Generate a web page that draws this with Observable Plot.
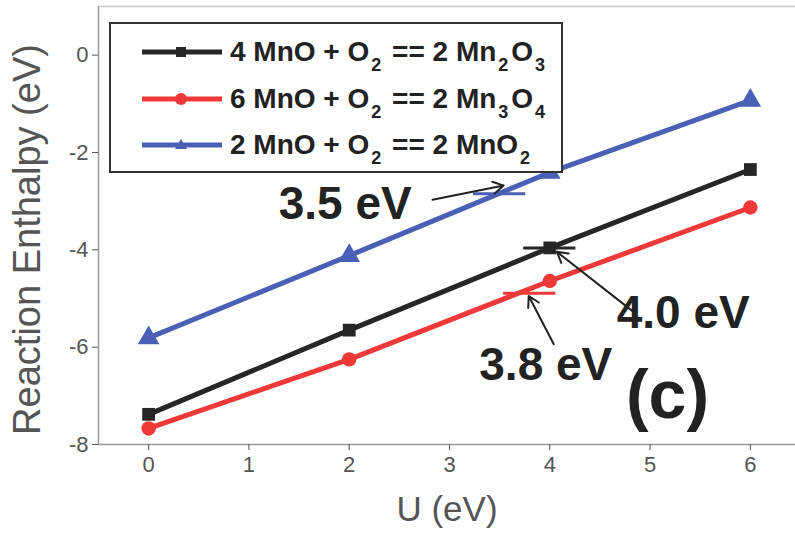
<!DOCTYPE html>
<html>
<head>
<meta charset="utf-8">
<script src="https://cdn.jsdelivr.net/npm/d3@7"></script>
<script src="https://cdn.jsdelivr.net/npm/@observablehq/plot@0.6"></script>
<style>
  html, body { margin: 0; padding: 0; background: #fff; }
  #wrap { position: relative; width: 795px; height: 543px; overflow: hidden; font-family: "Liberation Sans", Arial, sans-serif; }
  #legend { position: absolute; left: 109px; top: 22px; width: 450px; height: 147px; border: 2px solid #333; background: #fff; box-sizing: content-box; }
  .entry { position: absolute; left: 29px; height: 40px; display: flex; align-items: center; }
  .entry svg { width: 84px; height: 20px; }
  .entry span { font-size: 28px; font-weight: bold; color: #222; margin-left: 6px; white-space: nowrap; letter-spacing: 0px; }
  .entry sub { font-size: 18px; vertical-align: -10px; line-height: 0; margin: 0 3px 0 2px; }
</style>
</head>
<body>
<div id="wrap"></div>
<script>
// ---- data ----
const U = [0, 2, 4, 6];
const mn2o3 = [-7.38, -5.65, -3.96, -2.35];
const mn3o4 = [-7.67, -6.25, -4.64, -3.13];
const mno2  = [-5.81, -4.12, -2.41, -0.93];
const seriesNames = ["Mn2O3", "Mn3O4", "MnO2"];
const seriesLabels = [
  "4 MnO + O<sub>2</sub> == 2 Mn<sub>2</sub>O<sub>3</sub>",
  "6 MnO + O<sub>2</sub> == 2 Mn<sub>3</sub>O<sub>4</sub>",
  "2 MnO + O<sub>2</sub> == 2 MnO<sub>2</sub>"
];
const xTicks = [0, 1, 2, 3, 4, 5, 6];
const yTicks = [-8, -6, -4, -2, 0];
// annotations (data units): crossing U, value at crossing, label, label centre, arrow start/end
const annLabels = ["3.5 eV", "4.0 eV", "3.8 eV"];
const annU = [3.5, 4.0, 3.8];
const annV = [-2.85, -3.96, -4.89];
const annTextX = [1.96, 5.33, 3.96];
const annTextY = [-3.07, -5.30, -6.37];
const annFrom = [[2.83, -2.97], [4.85, -5.30], [4.04, -5.94]];
const annTo = [[3.54, -2.68], [4.07, -4.04], [3.79, -4.95]];
const panelLabel = "(c)";
const xLabel = "U (eV)";
const yLabel = "Reaction Enthalpy (eV)";

// ---- styles ----
const colors = ["#262626", "#ef3838", "#4a60b6"];
const symbols = ["square", "circle", "triangle"];
const radii = [7.2, 7.2, 8];
const font = "Liberation Sans, Arial, sans-serif";

const allSeries = [mn2o3, mn3o4, mno2];
const rows = [];
allSeries.forEach((s, k) => U.forEach((u, i) => rows.push({u, v: s[i], name: seriesNames[k]})));
const ann = annLabels.map((l, i) => ({
  label: l, u: annU[i], v: annV[i], tx: annTextX[i], ty: annTextY[i],
  x1: annFrom[i][0], y1: annFrom[i][1], x2: annTo[i][0], y2: annTo[i][1], c: colors[[2, 0, 1][i]]
}));

const xDomain = [-0.5, 6.45];
const yDomain = [-8, 1.0];

const marks = [
  Plot.ruleY([yDomain[1]], {stroke: "#c8c8c8", strokeWidth: 1.5}),
  Plot.ruleX([xDomain[0]], {stroke: "#999", strokeWidth: 1.5}),
  Plot.ruleY([yDomain[0]], {stroke: "#999", strokeWidth: 1.5}),
];
seriesNames.forEach((n, k) => {
  const d = rows.filter(r => r.name === n);
  marks.push(Plot.line(d, {x: "u", y: "v", stroke: colors[k], strokeWidth: 5}));
  marks.push(Plot.dot(d, {x: "u", y: "v", fill: colors[k], stroke: "none", symbol: symbols[k], r: radii[k]}));
});
marks.push(
  Plot.ruleY(ann, {y: "v", x1: d => d.u - 0.26, x2: d => d.u + 0.26, stroke: "c", strokeWidth: 3}),
  Plot.arrow(ann, {x1: "x1", y1: "y1", x2: "x2", y2: "y2", stroke: "#222", strokeWidth: 2, headLength: 9}),
  Plot.text(ann, {x: "tx", y: "ty", text: "label", fontSize: 46, fontWeight: "bold", fill: "#222", fontFamily: font}),
  Plot.text([panelLabel], {frameAnchor: "bottom-right", dx: -128, dy: -48, fontSize: 68, fontWeight: "bold", fill: "#222", fontFamily: font, lineAnchor: "middle", textAnchor: "middle"}),
  Plot.text([yLabel], {frameAnchor: "left", dx: -71, dy: 14, rotate: -90, textAnchor: "middle", fontSize: 38, fill: "#555", fontFamily: font}),
  Plot.text([xLabel], {frameAnchor: "bottom", dy: 76, textAnchor: "middle", fontSize: 35, fill: "#555", fontFamily: font}),
  Plot.axisX({ticks: xTicks, tickSize: 6, tickPadding: 6, fontSize: 22, color: "#555", label: null, tickFormat: d3.format("d")}),
  Plot.axisY({ticks: yTicks, tickSize: 6, tickPadding: 4, fontSize: 22, color: "#555", label: null, tickFormat: d => (d < 0 ? "-" : "") + Math.abs(d)})
);

const chart = Plot.plot({
  width: 795, height: 543,
  marginLeft: 98, marginRight: 0, marginTop: 6, marginBottom: 99,
  x: {domain: xDomain},
  y: {domain: yDomain},
  style: {fontFamily: font, background: "#fff", overflow: "visible"},
  marks
});
const wrap = document.getElementById("wrap");
wrap.appendChild(chart);

// legend overlay
const legend = document.createElement("div");
legend.id = "legend";
seriesLabels.forEach((lab, k) => {
  const e = document.createElement("div");
  e.className = "entry";
  e.style.top = (8 + k * 46.5) + "px";
  const sym = symbols[k] === "square" ? `<rect x="36" y="5" width="10" height="10" fill="${colors[k]}"/>`
    : symbols[k] === "circle" ? `<circle cx="41" cy="10" r="6" fill="${colors[k]}"/>`
    : `<path d="M41,4 L47,14 L35,14 Z" fill="${colors[k]}"/>`;
  e.innerHTML = `<svg viewBox="0 0 84 20"><line x1="2" x2="82" y1="10" y2="10" stroke="${colors[k]}" stroke-width="5"/>${sym}</svg><span>${lab}</span>`;
  legend.appendChild(e);
});
wrap.appendChild(legend);
</script>
</body>
</html>
